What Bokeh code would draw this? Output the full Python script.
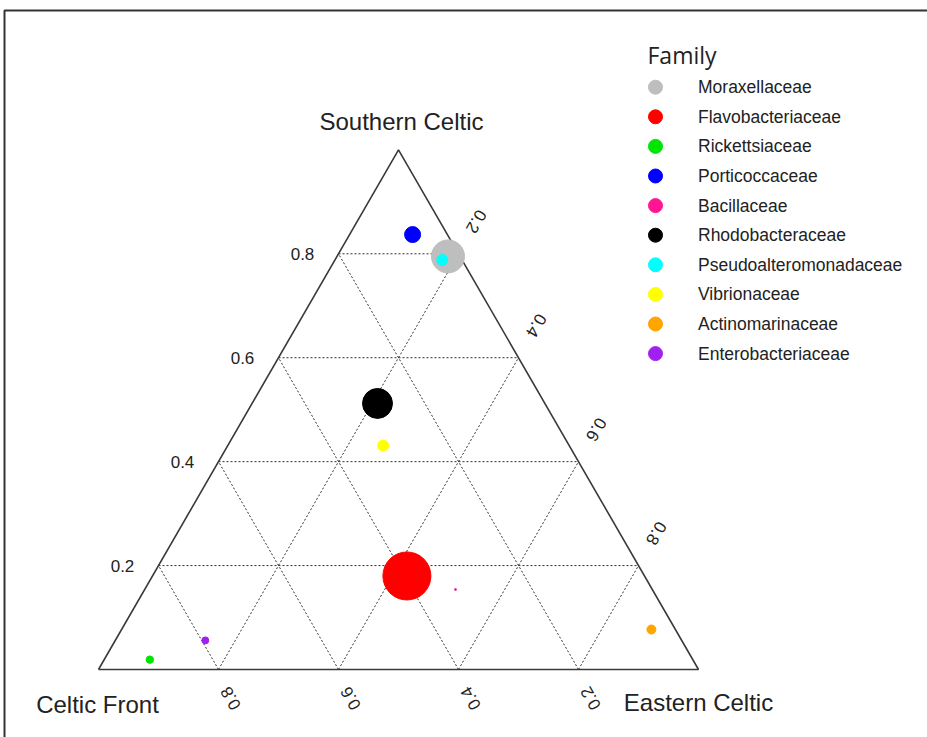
import math
from bokeh.plotting import figure
from bokeh.models import ColumnDataSource, Range1d
from bokeh.core.properties import value
from bokeh.embed import file_html
from bokeh.resources import INLINE

# ---------------- data ----------------
families = ["Moraxellaceae", "Flavobacteriaceae", "Rickettsiaceae", "Porticoccaceae",
            "Bacillaceae", "Rhodobacteraceae", "Pseudoalteromonadaceae", "Vibrionaceae",
            "Actinomarinaceae", "Enterobacteriaceae"]
colors = ["#BEBEBE", "#FF0000", "#00E600", "#0000FF", "#FF1493",
          "#000000", "#00FFFF", "#FFFF00", "#FFA500", "#A020F0"]
celtic_front = [0.020, 0.396, 0.905, 0.058, 0.328, 0.279, 0.033, 0.310, 0.040, 0.794]
southern_celtic = [0.795, 0.180, 0.019, 0.837, 0.154, 0.512, 0.788, 0.431, 0.077, 0.056]
eastern_celtic = [0.185, 0.424, 0.076, 0.105, 0.518, 0.209, 0.179, 0.259, 0.883, 0.150]
abundance = [47.3, 100.0, 2.4, 11.1, 0.17, 39.0, 5.3, 5.3, 3.5, 2.1]
ticks = [0.2, 0.4, 0.6, 0.8]
tick_labels = ["0.2", "0.4", "0.6", "0.8"]
axis_titles = ["Celtic Front", "Southern Celtic", "Eastern Celtic"]
legend_title = "Family"

# ---------------- geometry ----------------
S3 = math.sqrt(3) / 2
PX = 600.0            # pixels per unit
OX, OY = 98.0, 669.0  # screen position of Celtic Front corner
W, H = 927, 737
X0, Y0 = 0, 0         # screen position of the figure's top-left corner


def tern(cf, s, e):
    return e + s / 2.0, s * S3


def scr(xs, ys):
    return (xs - OX) / PX, (OY - ys) / PX


p = figure(width=W, height=H, output_backend="svg", toolbar_location=None,
           x_range=Range1d((X0 - OX) / PX, (X0 + W - OX) / PX),
           y_range=Range1d((OY - Y0 - H) / PX, (OY - Y0) / PX),
           min_border=0, outline_line_color=None, background_fill_color="white",
           border_fill_color="white")
p.axis.visible = False
p.grid.visible = False

# frame border (top and left)
bx0, by0 = scr(4, 10)
bx1, _ = scr(X0 + W + 2, 10)
_, by1 = scr(4, Y0 + H + 2)
p.line([bx1, bx0, bx0], [by0, by0, by1], line_color="#333333", line_width=2)

# grid lines
gx, gy = [], []
for v in ticks:
    a = tern(1 - v, v, 0); b = tern(0, v, 1 - v)          # Southern constant
    gx.append([a[0], b[0]]); gy.append([a[1], b[1]])
    a = tern(1 - v, 0, v); b = tern(0, 1 - v, v)          # Eastern constant
    gx.append([a[0], b[0]]); gy.append([a[1], b[1]])
    a = tern(v, 0, 1 - v); b = tern(v, 1 - v, 0)          # Celtic Front constant
    gx.append([a[0], b[0]]); gy.append([a[1], b[1]])
p.multi_line(gx, gy, line_color="#333333", line_width=1, line_dash="2 2")

# triangle
c1 = tern(1, 0, 0); c2 = tern(0, 1, 0); c3 = tern(0, 0, 1)
p.line([c1[0], c2[0], c3[0], c1[0]], [c1[1], c2[1], c3[1], c1[1]],
       line_color="#3a3a3a", line_width=1.6)

# tick labels
TFS = "17px"
lx, ly = [], []
for v in ticks:
    x, y = tern(1 - v, v, 0)
    lx.append(x - 36 / PX); ly.append(y)
p.text(lx, ly, text=tick_labels, text_align="center", text_baseline="middle",
       text_font=value("Liberation Sans"), text_font_size=TFS, text_color="#222222")

bxs, bys, btx = [], [], []
for v, t in zip(ticks, tick_labels):
    x, y = tern(v, 0, 1 - v)
    bxs.append(x + 12 / PX); bys.append(y - 29 / PX); btx.append(t)
p.text(bxs, bys, text=btx, angle=2 * math.pi / 3, text_align="center", text_baseline="middle",
       text_font=value("Liberation Sans"), text_font_size=TFS, text_color="#222222")

rxs, rys = [], []
for v in ticks:
    x, y = tern(0, 1 - v, v)
    rxs.append(x + 18 / PX); rys.append(y + 32 / PX)
p.text(rxs, rys, text=tick_labels, angle=-2 * math.pi / 3, text_align="center",
       text_baseline="middle", text_font=value("Liberation Sans"), text_font_size=TFS,
       text_color="#222222")

# axis titles
tx = [c1[0] - 1 / PX, c2[0] + 3 / PX, c3[0]]
ty = [c1[1] - 35 / PX, c2[1] + 28 / PX, c3[1] - 33 / PX]
p.text(tx, ty, text=axis_titles, text_align="center", text_baseline="middle",
       text_font=value("Liberation Sans"), text_font_size="24px", text_color="#222222")

# points
xs, ys = [], []
for cf, s, e in zip(celtic_front, southern_celtic, eastern_celtic):
    x, y = tern(cf, s, e)
    xs.append(x); ys.append(y)
sizes = [48 * math.sqrt(a / 100.0) for a in abundance]
src = ColumnDataSource(dict(x=xs, y=ys, size=sizes, color=colors))
p.scatter("x", "y", size="size", fill_color="color", line_color="color", source=src)

# legend (manual)
ltx, lty = scr(647, 54)
p.text([ltx], [lty], text=[legend_title], text_align="left", text_baseline="alphabetic",
       text_font=value("Open Sans"), text_font_size="23px", text_color="#222222")
mx, my, tx2 = [], [], []
for i in range(len(families)):
    xm, ym = scr(655, 86.7 + 29.6 * i)
    mx.append(xm); my.append(ym)
    tx2.append(scr(697.5, 0)[0])
p.scatter(mx, my, size=14, fill_color=colors, line_color=colors)
p.text(tx2, my, text=families, text_align="left", text_baseline="middle",
       text_font=value("Liberation Sans"), text_font_size="17.5px", text_color="#222222")

open("out.html", "w").write(file_html(p, INLINE))
